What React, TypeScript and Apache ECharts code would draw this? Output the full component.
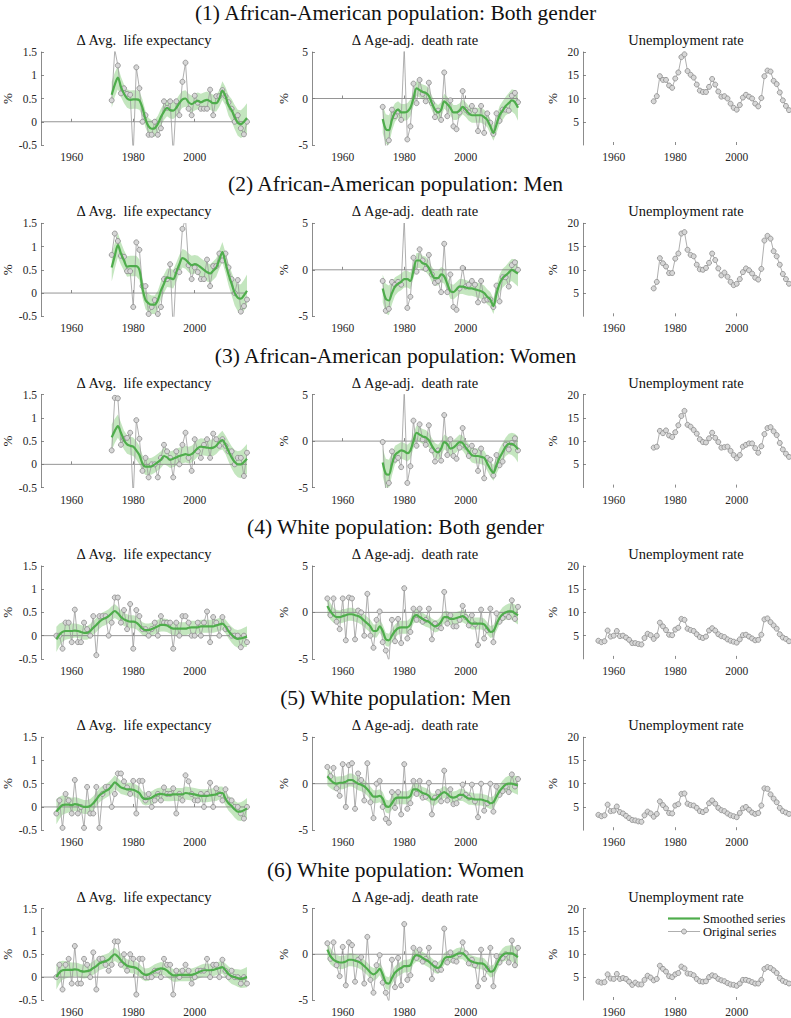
import React, { useEffect, useRef } from "react";
import * as echarts from "echarts";

// ---------------- categories ----------------
const YEARS_AA = [
  1973, 1974, 1975, 1976, 1977, 1978, 1979, 1980, 1981, 1982,
  1983, 1984, 1985, 1986, 1987, 1988, 1989, 1990, 1991, 1992,
  1993, 1994, 1995, 1996, 1997, 1998, 1999, 2000, 2001, 2002,
  2003, 2004, 2005, 2006, 2007, 2008, 2009, 2010, 2011, 2012,
  2013, 2014, 2015, 2016, 2017,
];
const YEARS_W = [
  1955, 1956, 1957, 1958, 1959, 1960, 1961, 1962, 1963, 1964,
  1965, 1966, 1967, 1968, 1969, 1970, 1971, 1972, 1973, 1974,
  1975, 1976, 1977, 1978, 1979, 1980, 1981, 1982, 1983, 1984,
  1985, 1986, 1987, 1988, 1989, 1990, 1991, 1992, 1993, 1994,
  1995, 1996, 1997, 1998, 1999, 2000, 2001, 2002, 2003, 2004,
  2005, 2006, 2007, 2008, 2009, 2010, 2011, 2012, 2013, 2014,
  2015, 2016, 2017,
];

const ROW_TITLES = [
  "(1) African-American population: Both gender",
  "(2) African-American population: Men",
  "(3) African-American population: Women",
  "(4) White population: Both gender",
  "(5) White population: Men",
  "(6) White population: Women",
];
const COL_TITLES = ["\u0394 Avg.  life expectancy", "\u0394 Age-adj.  death rate", "Unemployment rate"];
const X_TICKS = [1960, 1980, 2000];
const Y_TICKS_UNEMP = [5, 10, 15, 20];
const LEGEND_LABELS = ["Smoothed series", "Original series"];

// ---------------- (1) African-American, both ----------------
const AA_BOTH_LE = [
  0.46, 1.55, 1.21, 0.61, 0.72, 0.6, 0.58, -0.7, 1.17, 0.72,
  0.0, 0.14, -0.28, -0.28, 0.0, -0.28, -0.14, 0.44, 0.3, 0.44,
  -0.7, 0.44, 0.14, 0.86, 1.27, 0.28, 0.14, 0.56, 0.41, 0.28,
  0.28, 0.28, 0.69, 0.14, 0.55, 0.55, 0.68, 0.55, 0.42, 0.28,
  0.0, 0.14, -0.14, -0.27, 0.0,
];
const AA_BOTH_LE_S = [
  0.58, 0.8, 0.95, 0.75, 0.6, 0.5, 0.47, 0.48, 0.48, 0.46,
  0.3, 0.05, -0.1, -0.15, -0.14, -0.05, 0.1, 0.22, 0.3, 0.25,
  0.24, 0.3, 0.4, 0.48, 0.5, 0.42, 0.38, 0.42, 0.45, 0.42,
  0.45, 0.47, 0.44, 0.4, 0.4, 0.5, 0.67, 0.55, 0.35, 0.25,
  0.1, -0.02, -0.05, 0.0, 0.08,
];
const AA_LE_HW = [
  0.28, 0.26, 0.25, 0.22, 0.2, 0.2, 0.2, 0.2, 0.2, 0.2,
  0.18, 0.18, 0.18, 0.18, 0.18, 0.18, 0.18, 0.18, 0.18, 0.18,
  0.18, 0.18, 0.18, 0.18, 0.18, 0.18, 0.18, 0.18, 0.18, 0.18,
  0.18, 0.18, 0.18, 0.18, 0.18, 0.18, 0.2, 0.2, 0.22, 0.24,
  0.26, 0.28, 0.3, 0.31, 0.32,
];
const AA_BOTH_DR = [
  -0.9, -5.5, -4.5, -1.2, -1.9, -1.4, -2.3, 5.5, -4.4, -3.0,
  1.6, -0.5, 2.0, 0.5, -0.3, 1.7, -0.5, -2.0, -1.3, -2.3,
  2.8, -1.9, -0.2, -3.0, -3.3, -1.5, 0.8, -1.2, -1.5, -0.8,
  -1.3, -3.5, -0.8, -3.7, -1.6, -2.6, -3.8, -1.6, -2.4, -1.2,
  -1.2, -1.3, 0.3, 0.6, -0.4,
];
const AA_BOTH_DR_S = [
  -2.2, -3.3, -3.4, -2.3, -1.5, -1.2, -1.5, -1.5, -1.4, -1.0,
  0.0, 1.1, 0.9, 0.7, 0.6, 0.3, -0.5, -1.2, -1.5, -1.2,
  -0.3, -0.6, -1.0, -1.5, -1.5, -1.3, -0.9, -1.2, -1.6, -1.8,
  -1.8, -1.8, -1.8, -2.0, -2.3, -3.0, -3.7, -2.8, -1.8, -1.3,
  -0.8, -0.5, -0.2, -0.4, -1.0,
];
const AA_DR_HW = [
  1.5, 1.6, 1.6, 1.2, 1.0, 0.9, 0.9, 0.9, 0.9, 0.9,
  0.8, 0.8, 0.8, 0.8, 0.8, 0.8, 0.8, 0.8, 0.8, 0.8,
  0.8, 0.8, 0.8, 0.8, 0.8, 0.8, 0.8, 0.8, 0.8, 0.8,
  0.8, 0.8, 0.8, 0.8, 0.8, 0.8, 0.85, 0.9, 1.0, 1.0,
  1.0, 1.1, 1.2, 1.3, 1.4,
];
const AA_BOTH_UN = [
  9.4, 10.5, 14.8, 14.0, 14.0, 12.8, 12.3, 14.3, 15.6, 18.9,
  19.5, 15.9, 15.1, 14.5, 13.0, 11.7, 11.4, 11.4, 12.5, 14.2,
  13.0, 11.5, 10.4, 10.5, 10.0, 8.9, 8.0, 7.6, 8.6, 10.2,
  10.8, 10.4, 10.0, 8.9, 8.3, 10.1, 14.8, 16.0, 15.8, 13.8,
  13.1, 11.3, 9.6, 8.4, 7.5,
];

// ---------------- (2) African-American, men ----------------
const AA_MEN_LE = [
  0.82, 1.28, 1.12, 0.8, 0.78, 0.47, 0.47, -0.3, 1.09, 0.93,
  0.15, 0.15, -0.45, -0.3, -0.15, -0.45, -0.3, 0.3, 0.3, 0.62,
  -0.8, 0.47, 0.45, 1.38, 1.6, 0.6, 0.3, 0.55, 0.45, 0.3,
  0.3, 0.72, 0.15, 0.58, 0.58, 0.85, 0.7, 0.85, 0.55, 0.3,
  0.0, 0.28, -0.4, -0.28, -0.14,
];
const AA_MEN_LE_S = [
  0.55, 0.8, 1.03, 0.85, 0.7, 0.57, 0.58, 0.58, 0.58, 0.5,
  0.1, -0.15, -0.22, -0.25, -0.25, -0.15, 0.05, 0.2, 0.33, 0.32,
  0.3, 0.45, 0.62, 0.75, 0.72, 0.65, 0.6, 0.62, 0.6, 0.55,
  0.5, 0.45, 0.42, 0.48, 0.55, 0.72, 0.88, 0.65, 0.4, 0.2,
  0.0, -0.1, -0.12, -0.05, 0.05,
];
const AA_MEN_LE_HW = [
  0.3, 0.28, 0.26, 0.24, 0.22, 0.22, 0.22, 0.22, 0.22, 0.22,
  0.2, 0.2, 0.2, 0.2, 0.2, 0.2, 0.2, 0.2, 0.2, 0.2,
  0.2, 0.2, 0.2, 0.2, 0.2, 0.2, 0.2, 0.2, 0.2, 0.2,
  0.2, 0.2, 0.2, 0.2, 0.2, 0.2, 0.22, 0.22, 0.24, 0.25,
  0.27, 0.29, 0.31, 0.33, 0.35,
];
const AA_MEN_DR = [
  -1.2, -4.4, -4.2, -1.3, -1.6, -1.3, -1.6, 5.5, -4.1, -2.9,
  1.3, -0.2, 2.2, 1.0, 0.1, 1.6, -0.5, -1.4, -1.2, -2.4,
  2.8, -2.4, -0.5, -4.0, -4.3, -2.0, 0.2, -1.8, -1.6, -1.2,
  -1.6, -3.5, -1.2, -3.3, -3.2, -3.2, -4.0, -1.7, -3.4, -0.8,
  -0.8, -1.8, 0.5, 0.8, 0.0,
];
const AA_MEN_DR_S = [
  -2.0, -3.1, -3.3, -2.5, -1.8, -1.5, -1.3, -1.0, -1.0, -1.2,
  -0.1, 1.0, 1.0, 0.7, 0.6, 0.2, -0.5, -0.9, -0.9, -0.5,
  -0.7, -1.5, -2.3, -2.4, -2.1, -1.8, -1.8, -1.9, -2.0, -2.0,
  -2.1, -2.2, -2.3, -2.5, -2.9, -3.2, -3.9, -2.6, -1.5, -0.9,
  -0.6, -0.3, 0.0, -0.2, -0.4,
];
const AA_MEN_UN = [
  6.0, 7.4, 12.5, 11.4, 10.7, 9.3, 9.3, 12.4, 13.5, 17.8,
  18.1, 14.3, 13.2, 12.9, 11.1, 10.1, 10.0, 10.4, 11.5, 13.5,
  12.1, 10.3, 8.8, 9.4, 8.5, 7.4, 6.7, 7.0, 8.0, 9.5,
  10.3, 9.9, 9.2, 8.3, 7.9, 10.2, 16.3, 17.3, 16.7, 14.0,
  12.9, 11.1, 9.1, 8.0, 7.0,
];

// ---------------- (3) African-American, women ----------------
const AA_WOM_LE = [
  0.3, 1.43, 1.42, 0.42, 0.55, 0.57, 0.68, -0.7, 0.95, 0.55,
  -0.14, 0.14, -0.28, 0.0, 0.0, -0.28, 0.14, 0.42, 0.28, 0.14,
  -0.28, 0.28, 0.0, 0.42, 0.68, 0.14, -0.14, 0.54, 0.28, 0.14,
  0.42, 0.54, 0.14, 0.66, 0.54, 0.4, 0.54, 0.4, 0.28, 0.28,
  0.0, 0.14, 0.14, -0.25, 0.25,
];
const AA_WOM_LE_S = [
  0.58, 0.72, 0.82, 0.68, 0.52, 0.43, 0.4, 0.38, 0.3, 0.2,
  0.02, -0.05, -0.05, -0.04, 0.0, 0.05, 0.1, 0.18, 0.15, 0.1,
  0.12, 0.15, 0.18, 0.2, 0.22, 0.2, 0.22, 0.28, 0.35, 0.38,
  0.37, 0.36, 0.35, 0.36, 0.4, 0.48, 0.52, 0.42, 0.28, 0.15,
  0.05, 0.0, 0.0, 0.05, 0.12,
];
const AA_WOM_DR = [
  -0.1, -5.5, -4.5, -1.1, -2.0, -1.8, -2.8, 5.5, -4.5, -2.7,
  2.2, -0.5, 1.8, 0.2, -0.4, 1.7, -1.0, -2.2, -1.0, -2.1,
  2.8, -1.5, 0.2, -1.6, -1.9, -0.7, 1.4, -0.6, -1.6, -0.5,
  -1.1, -3.2, -0.8, -4.0, -1.8, -2.0, -3.7, -1.5, -2.6, -2.2,
  -0.4, -0.9, -0.2, 0.3, -1.0,
];
const AA_WOM_DR_S = [
  -2.3, -3.5, -3.6, -2.5, -1.5, -1.2, -1.0, -1.1, -1.3, -1.0,
  0.0, 0.9, 0.7, 0.5, 0.4, 0.1, -0.5, -1.0, -1.2, -0.8,
  -0.1, -0.3, -0.8, -0.7, -0.4, -0.1, -0.2, -0.7, -1.1, -1.5,
  -1.6, -1.6, -1.7, -1.8, -2.4, -3.0, -3.4, -2.6, -1.8, -1.2,
  -0.6, -0.3, -0.3, -0.5, -0.9,
];
const AA_WOM_UN = [
  8.6, 8.8, 12.2, 11.7, 12.3, 11.2, 10.9, 11.9, 13.4, 15.4,
  16.5, 13.5, 13.1, 12.4, 11.6, 10.4, 9.8, 9.7, 10.6, 11.8,
  10.7, 9.8, 8.6, 8.7, 8.8, 7.9, 7.0, 6.3, 7.0, 8.8,
  9.2, 9.5, 9.5, 8.5, 7.5, 8.9, 11.5, 12.8, 13.0, 12.1,
  11.3, 9.6, 8.2, 7.3, 6.6,
];

// ---------------- (4) White, both ----------------
const W_BOTH_LE = [
  0.0, 0.0, -0.28, 0.28, 0.28, -0.14, 0.56, -0.14, -0.14, 0.28,
  0.14, 0.0, 0.42, -0.42, 0.42, 0.42, 0.42, 0.0, 0.28, 0.82,
  0.82, 0.28, 0.55, 0.14, 0.68, -0.28, 0.55, 0.42, 0.14, 0.14,
  0.0, 0.14, 0.28, 0.0, 0.42, 0.28, 0.28, 0.28, -0.28, 0.28,
  0.0, 0.42, 0.42, 0.28, 0.0, 0.0, 0.28, 0.0, 0.28, 0.52,
  -0.14, 0.4, 0.28, 0.0, 0.4, 0.14, 0.14, 0.0, 0.0, 0.0,
  -0.25, 0.0, -0.14,
];
const W_BOTH_LE_S = [
  -0.08, 0.02, 0.08, 0.1, 0.1, 0.1, 0.11, 0.1, 0.08, 0.06,
  0.06, 0.1, 0.17, 0.23, 0.3, 0.35, 0.38, 0.42, 0.48, 0.53,
  0.48, 0.4, 0.35, 0.32, 0.3, 0.3, 0.28, 0.22, 0.15, 0.12,
  0.12, 0.14, 0.17, 0.2, 0.23, 0.23, 0.22, 0.18, 0.15, 0.15,
  0.15, 0.15, 0.15, 0.17, 0.18, 0.18, 0.18, 0.2, 0.2, 0.2,
  0.2, 0.2, 0.22, 0.24, 0.26, 0.2, 0.1, 0.02, -0.04, -0.07,
  -0.06, -0.04, -0.02,
];
const W_LE_HW = [
  0.27, 0.24, 0.21, 0.19, 0.17, 0.16, 0.15, 0.15, 0.15, 0.15,
  0.15, 0.15, 0.15, 0.15, 0.15, 0.15, 0.15, 0.15, 0.15, 0.15,
  0.14, 0.14, 0.14, 0.14, 0.14, 0.14, 0.14, 0.14, 0.14, 0.14,
  0.14, 0.14, 0.14, 0.14, 0.14, 0.14, 0.14, 0.14, 0.14, 0.14,
  0.14, 0.14, 0.14, 0.14, 0.14, 0.14, 0.14, 0.14, 0.14, 0.14,
  0.14, 0.14, 0.14, 0.14, 0.14, 0.15, 0.16, 0.17, 0.18, 0.19,
  0.2, 0.21, 0.22,
];
const W_BOTH_DR = [
  1.5, -0.3, 1.5, -1.0, -1.8, 1.5, -3.0, 1.6, 1.5, -2.9,
  0.2, 0.0, -2.5, 2.0, -2.5, -3.8, -0.8, 0.1, -3.2, -4.1,
  -5.2, -0.8, -3.1, -0.7, -3.3, 2.6, -2.8, -2.1, 0.4, -0.8,
  0.4, -1.0, -0.8, 0.4, -2.9, -1.2, -1.5, -1.7, 2.2, -1.2,
  -0.3, -1.5, -1.5, -0.8, 0.7, -0.5, -1.4, -0.3, -1.3, -3.5,
  0.3, -2.8, -1.9, 0.4, -3.2, -0.1, -1.0, -0.6, -0.2, -0.5,
  1.3, -0.7, 0.6,
];
const W_BOTH_DR_S = [
  0.7, 0.1, -0.3, -0.5, -0.5, -0.4, -0.3, -0.2, -0.2, -0.3,
  -0.4, -0.6, -0.9, -1.2, -1.5, -2.0, -2.0, -1.5, -2.0, -2.9,
  -3.0, -2.5, -2.0, -1.7, -1.6, -1.6, -1.6, -1.3, -0.5, -0.3,
  -0.5, -0.7, -0.9, -1.0, -1.3, -1.5, -1.4, -1.0, -0.5, -0.5,
  -0.7, -0.7, -0.6, -0.5, -0.4, -0.6, -1.0, -1.2, -1.2, -1.2,
  -1.2, -1.3, -1.7, -2.1, -2.0, -1.3, -0.6, -0.2, 0.0, 0.1,
  0.1, -0.1, -0.3,
];
const W_DR_HW = [
  1.0, 0.9, 0.8, 0.75, 0.7, 0.7, 0.7, 0.7, 0.7, 0.7,
  0.7, 0.7, 0.7, 0.7, 0.7, 0.7, 0.7, 0.7, 0.7, 0.7,
  0.7, 0.7, 0.7, 0.7, 0.7, 0.7, 0.7, 0.7, 0.7, 0.7,
  0.65, 0.65, 0.65, 0.65, 0.65, 0.65, 0.65, 0.65, 0.65, 0.65,
  0.65, 0.65, 0.65, 0.65, 0.65, 0.65, 0.65, 0.65, 0.65, 0.65,
  0.65, 0.65, 0.65, 0.65, 0.65, 0.7, 0.7, 0.75, 0.8, 0.85,
  0.9, 0.95, 1.0,
];
const W_BOTH_UN = [
  3.9, 3.6, 3.8, 6.1, 4.8, 5.0, 6.0, 4.9, 5.0, 4.6,
  4.1, 3.4, 3.4, 3.2, 3.1, 4.5, 5.4, 5.1, 4.3, 5.0,
  7.8, 7.0, 6.2, 5.2, 5.1, 6.3, 6.7, 8.6, 8.4, 6.5,
  6.2, 6.0, 5.3, 4.7, 4.5, 4.8, 6.1, 6.6, 6.1, 5.3,
  4.9, 4.7, 4.2, 3.9, 3.7, 3.5, 4.2, 5.1, 5.2, 4.8,
  4.4, 4.0, 4.1, 5.2, 8.5, 8.7, 7.9, 7.2, 6.5, 5.3,
  4.6, 4.3, 3.8,
];

// ---------------- (5) White, men ----------------
const W_MEN_LE = [
  -0.14, 0.14, -0.45, 0.28, 0.14, -0.14, 0.58, -0.14, 0.0, -0.45,
  0.43, -0.14, -0.14, 0.43, -0.45, 0.28, 0.43, 0.43, 0.0, 0.28,
  0.72, 0.72, 0.55, 0.42, 0.28, 0.56, -0.14, 0.56, 0.56, 0.14,
  0.28, 0.0, 0.14, 0.28, 0.14, 0.42, 0.28, 0.28, 0.4, -0.14,
  0.28, 0.14, 0.68, 0.55, 0.28, 0.14, 0.14, 0.28, 0.0, 0.28,
  0.52, 0.0, 0.4, 0.28, 0.14, 0.38, 0.14, 0.14, 0.0, 0.0,
  -0.14, -0.25, 0.0,
];
const W_MEN_LE_S = [
  -0.1, -0.02, 0.04, 0.05, 0.05, 0.04, 0.06, 0.05, 0.02, 0.0,
  0.0, 0.02, 0.08, 0.16, 0.25, 0.3, 0.34, 0.38, 0.45, 0.53,
  0.48, 0.42, 0.4, 0.38, 0.38, 0.37, 0.34, 0.3, 0.2, 0.17,
  0.18, 0.2, 0.24, 0.27, 0.28, 0.27, 0.26, 0.26, 0.27, 0.27,
  0.27, 0.27, 0.3, 0.29, 0.28, 0.27, 0.25, 0.24, 0.24, 0.24,
  0.25, 0.26, 0.27, 0.3, 0.3, 0.18, 0.08, 0.02, -0.05, -0.1,
  -0.1, -0.07, -0.03,
];
const W_MEN_DR = [
  1.8, 0.8, 1.7, -0.5, -1.3, 2.1, -2.5, 2.0, 2.2, -2.7,
  1.1, 0.4, -1.8, 2.2, -2.0, -3.7, 0.0, 0.3, -2.5, -3.8,
  -4.2, -0.9, -2.6, -0.9, -3.3, 2.1, -2.7, -2.1, 0.3, -1.1,
  0.3, -1.5, -1.4, 0.1, -3.3, -1.5, -0.9, -1.9, 1.4, -1.8,
  -0.6, -2.2, -2.1, -1.4, -0.1, -1.2, -1.5, -0.1, -1.9, -3.6,
  0.0, -2.9, -2.1, 0.0, -3.0, -0.3, -1.2, -0.8, -0.3, -0.9,
  1.0, -0.3, 0.5,
];
const W_MEN_DR_S = [
  0.8, 0.4, 0.1, 0.0, 0.1, 0.1, 0.2, 0.4, 0.4, 0.2,
  0.0, -0.1, -0.3, -0.6, -1.0, -1.4, -1.4, -1.3, -1.6, -2.4,
  -2.5, -2.1, -1.6, -1.5, -1.5, -1.5, -1.5, -1.3, -0.6, -0.6,
  -0.8, -1.0, -1.1, -1.3, -1.7, -1.7, -1.4, -1.1, -0.9, -1.1,
  -1.4, -1.5, -1.4, -1.2, -1.2, -1.4, -1.6, -1.6, -1.7, -1.7,
  -1.7, -1.8, -1.9, -2.1, -2.0, -1.4, -0.8, -0.4, -0.1, 0.0,
  0.0, -0.1, -0.2,
];
const W_MEN_UN = [
  3.3, 3.0, 3.2, 5.5, 4.1, 4.2, 5.1, 3.9, 3.6, 3.1,
  2.6, 2.2, 2.1, 1.9, 1.8, 3.2, 4.0, 3.6, 2.9, 3.5,
  6.2, 5.4, 4.7, 3.7, 3.6, 5.3, 5.6, 7.8, 7.9, 5.7,
  5.4, 5.3, 4.8, 4.1, 3.9, 4.3, 5.8, 6.4, 5.7, 4.8,
  4.3, 4.1, 3.6, 3.2, 3.0, 2.8, 3.7, 4.7, 5.0, 4.4,
  3.8, 3.5, 3.7, 5.3, 9.0, 8.9, 7.7, 6.8, 6.0, 4.8,
  4.1, 3.8, 3.5,
];

// ---------------- (6) White, women ----------------
const W_WOM_LE = [
  0.0, 0.27, -0.27, 0.27, 0.4, -0.14, 0.68, -0.14, -0.14, 0.4,
  0.27, 0.0, 0.54, -0.27, 0.4, 0.4, 0.27, 0.14, 0.27, 0.78,
  0.78, 0.27, 0.5, 0.14, 0.5, 0.4, -0.38, 0.4, 0.4, 0.0,
  0.0, 0.0, 0.14, 0.14, 0.0, 0.4, 0.27, 0.27, -0.38, 0.14,
  0.0, 0.14, 0.27, 0.14, -0.14, 0.0, 0.14, 0.14, 0.14, 0.4,
  0.0, 0.27, 0.27, 0.0, 0.38, 0.14, 0.0, 0.14, 0.0, 0.0,
  -0.14, 0.0, -0.14,
];
const W_WOM_LE_S = [
  0.0, 0.1, 0.15, 0.16, 0.16, 0.16, 0.17, 0.16, 0.13, 0.12,
  0.13, 0.15, 0.2, 0.24, 0.3, 0.33, 0.35, 0.38, 0.45, 0.5,
  0.45, 0.37, 0.3, 0.25, 0.23, 0.22, 0.2, 0.15, 0.08, 0.05,
  0.06, 0.1, 0.14, 0.17, 0.19, 0.18, 0.14, 0.08, 0.04, 0.04,
  0.05, 0.05, 0.05, 0.05, 0.05, 0.07, 0.1, 0.13, 0.15, 0.15,
  0.15, 0.16, 0.18, 0.2, 0.22, 0.15, 0.07, 0.02, 0.0, -0.02,
  -0.04, -0.02, 0.0,
];
const W_WOM_DR = [
  1.2, -0.5, 1.3, -1.2, -2.4, 0.8, -3.4, 1.3, 1.0, -3.0,
  -0.6, -0.3, -3.2, 1.9, -2.8, -4.2, -1.2, -0.1, -3.1, -4.2,
  -5.2, -0.6, -3.6, -0.4, -3.4, 3.3, -2.8, -2.3, 0.7, -0.4,
  0.5, -0.8, -0.5, 0.7, -2.7, -1.0, -1.7, -1.7, 2.8, -0.9,
  0.2, -0.7, -0.8, 0.0, 1.3, 0.1, -1.0, -0.6, -1.2, -3.5,
  0.5, -2.7, -1.6, 0.7, -3.5, -0.2, -0.9, -0.4, 0.0, -0.9,
  1.5, -1.2, 0.7,
];
const W_WOM_DR_S = [
  0.5, -0.2, -0.6, -0.8, -0.9, -0.9, -0.8, -0.6, -0.6, -0.7,
  -0.8, -1.0, -1.3, -1.6, -2.0, -2.2, -2.0, -1.6, -2.2, -3.1,
  -3.2, -2.6, -2.0, -1.7, -1.5, -1.3, -1.3, -1.2, -0.4, -0.1,
  -0.2, -0.4, -0.6, -0.8, -1.1, -1.4, -1.5, -1.2, -0.5, -0.3,
  -0.3, -0.2, 0.0, 0.1, 0.1, -0.2, -0.6, -0.8, -0.9, -1.0,
  -1.0, -1.1, -1.5, -1.9, -1.8, -1.2, -0.5, -0.1, 0.1, 0.1,
  0.1, -0.1, -0.3,
];
const W_WOM_UN = [
  4.0, 3.8, 3.9, 5.6, 4.7, 4.6, 5.7, 4.6, 4.8, 4.6,
  4.0, 3.3, 3.8, 3.4, 3.4, 4.4, 5.3, 4.9, 4.3, 4.6,
  7.5, 6.8, 6.2, 5.2, 5.0, 5.6, 5.9, 7.3, 6.9, 5.8,
  5.7, 5.4, 4.6, 4.1, 4.0, 4.1, 5.0, 5.4, 5.2, 4.6,
  4.3, 4.1, 3.7, 3.4, 3.3, 3.1, 3.6, 4.4, 4.4, 4.2,
  3.9, 3.6, 3.6, 4.4, 6.8, 7.2, 7.0, 6.5, 5.9, 4.8,
  4.2, 3.9, 3.6,
];

// ---------------- panel table ----------------
const ROWS = [
  { years: YEARS_AA, le: AA_BOTH_LE, leS: AA_BOTH_LE_S, leHW: AA_LE_HW, dr: AA_BOTH_DR, drS: AA_BOTH_DR_S, drHW: AA_DR_HW, un: AA_BOTH_UN },
  { years: YEARS_AA, le: AA_MEN_LE, leS: AA_MEN_LE_S, leHW: AA_MEN_LE_HW, dr: AA_MEN_DR, drS: AA_MEN_DR_S, drHW: AA_DR_HW, un: AA_MEN_UN },
  { years: YEARS_AA, le: AA_WOM_LE, leS: AA_WOM_LE_S, leHW: AA_LE_HW, dr: AA_WOM_DR, drS: AA_WOM_DR_S, drHW: AA_DR_HW, un: AA_WOM_UN },
  { years: YEARS_W, le: W_BOTH_LE, leS: W_BOTH_LE_S, leHW: W_LE_HW, dr: W_BOTH_DR, drS: W_BOTH_DR_S, drHW: W_DR_HW, un: W_BOTH_UN },
  { years: YEARS_W, le: W_MEN_LE, leS: W_MEN_LE_S, leHW: W_LE_HW, dr: W_MEN_DR, drS: W_MEN_DR_S, drHW: W_DR_HW, un: W_MEN_UN },
  { years: YEARS_W, le: W_WOM_LE, leS: W_WOM_LE_S, leHW: W_LE_HW, dr: W_WOM_DR, drS: W_WOM_DR_S, drHW: W_DR_HW, un: W_WOM_UN },
];

// ---------------- styling / layout ----------------
const FONT = "'Liberation Serif', 'Times New Roman', serif";
const GREEN = "#4fad4c";
const BAND = "#c4e6bf";
const GRAY_LINE = "#9a9a9a";
const MARK_FILL = "#d6d6d6";
const MARK_EDGE = "#8a8a8a";
const AXIS_COL = "#6e6e6e";
const TEXT_COL = "#262626";

const GRID_LEFT = [41, 312, 583];
const GRID_W = 206;
const GRID_H = 93;
const GRID_TOP0 = 52;
const ROW_PITCH = 171.3;
const TITLE_Y0 = 13;
const SUBTITLE_Y0 = 40;

const yearLabel = (v: number) => String(Math.round(v));

function buildOption() {
  const grid: any[] = [];
  const xAxis: any[] = [];
  const yAxis: any[] = [];
  const series: any[] = [];
  const graphic: any[] = [];

  ROWS.forEach((row, r) => {
    const top = GRID_TOP0 + ROW_PITCH * r;
    graphic.push({
      type: "text",
      x: 395.5,
      y: TITLE_Y0 + ROW_PITCH * r,
      style: { text: ROW_TITLES[r], font: `21.5px ${FONT}`, fill: "#111", textAlign: "center", textVerticalAlign: "middle", align: "center", verticalAlign: "middle" },
    });
    for (let c = 0; c < 3; c++) {
      const i = r * 3 + c;
      grid.push({ left: GRID_LEFT[c], top, width: GRID_W, height: GRID_H, containLabel: false });
      graphic.push({
        type: "text",
        x: GRID_LEFT[c] + GRID_W / 2,
        y: SUBTITLE_Y0 + ROW_PITCH * r,
        style: { text: COL_TITLES[c], font: `14.5px ${FONT}`, fill: "#111", textAlign: "center", textVerticalAlign: "middle", align: "center", verticalAlign: "middle" },
      });
      xAxis.push({
        gridIndex: i,
        type: "value",
        min: 1950,
        max: 2017,
        axisLine: { show: false },
        axisTick: { show: true, inside: true, length: 3, customValues: X_TICKS, lineStyle: { color: AXIS_COL, width: 0.8 } },
        axisLabel: { customValues: X_TICKS, formatter: yearLabel, fontFamily: FONT, fontSize: 11.5, color: TEXT_COL, margin: 6 },
        splitLine: { show: false },
      });
      const yBase: any = {
        gridIndex: i,
        type: "value",
        name: "%",
        nameLocation: "middle",
        nameRotate: 90,
        nameTextStyle: { fontFamily: FONT, fontSize: 13, color: TEXT_COL },
        axisLine: { show: true, lineStyle: { color: AXIS_COL, width: 0.8 } },
        axisTick: { show: true, inside: true, length: 3, lineStyle: { color: AXIS_COL, width: 0.8 } },
        axisLabel: { fontFamily: FONT, fontSize: 11.5, color: TEXT_COL, margin: 4 },
        splitLine: { show: false },
      };
      if (c === 0) {
        yAxis.push({ ...yBase, min: -0.5, max: 1.5, interval: 0.5, nameGap: 27 });
      } else if (c === 1) {
        yAxis.push({ ...yBase, min: -5, max: 5, interval: 5, nameGap: 22 });
      } else {
        yAxis.push({
          ...yBase,
          min: 0,
          max: 20,
          nameGap: 24,
          axisTick: { ...yBase.axisTick, customValues: Y_TICKS_UNEMP },
          axisLabel: { ...yBase.axisLabel, customValues: Y_TICKS_UNEMP },
        });
      }

      const years = row.years;
      let orig: number[], smooth: number[] | null = null, hw: number[] | null = null;
      if (c === 0) { orig = row.le; smooth = row.leS; hw = row.leHW; }
      else if (c === 1) { orig = row.dr; smooth = row.drS; hw = row.drHW; }
      else { orig = row.un; }

      if (smooth && hw) {
        const s = smooth, h = hw;
        series.push({
          type: "custom",
          xAxisIndex: i,
          yAxisIndex: i,
          silent: true,
          clip: true,
          z: 1,
          data: years.map((y, k) => [y, s[k] - h[k], s[k] + h[k]]),
          encode: { x: 0, y: [1, 2] },
          renderItem: (params: any, api: any) => {
            if (params.dataIndex !== 0) return null;
            const up = years.map((y, k) => api.coord([y, s[k] + h[k]]));
            const lo = years.map((y, k) => api.coord([y, s[k] - h[k]])).reverse();
            return { type: "polygon", shape: { points: up.concat(lo) }, style: { fill: BAND, stroke: null } };
          },
        });
        series.push({
          type: "line",
          xAxisIndex: i,
          yAxisIndex: i,
          silent: true,
          symbol: "none",
          z: 2,
          data: [[1950, 0], [2017, 0]],
          lineStyle: { color: "#7a7a7a", width: 0.8 },
        });
      }
      series.push({
        type: "line",
        name: "Original series",
        xAxisIndex: i,
        yAxisIndex: i,
        silent: true,
        clip: true,
        z: 3,
        data: years.map((y, k) => [y, orig[k]]),
        symbol: "circle",
        symbolSize: 5,
        showAllSymbol: true,
        lineStyle: { color: GRAY_LINE, width: 0.8 },
        itemStyle: { color: MARK_FILL, borderColor: MARK_EDGE, borderWidth: 0.8 },
      });
      if (smooth) {
        const s = smooth;
        series.push({
          type: "line",
          name: "Smoothed series",
          xAxisIndex: i,
          yAxisIndex: i,
          silent: true,
          clip: true,
          z: 4,
          smooth: 0.3,
          symbol: "none",
          data: years.map((y, k) => [y, s[k]]),
          lineStyle: { color: GREEN, width: 2.2 },
        });
      }
    }
  });

  // legend (row 6, unemployment panel)
  const ly = GRID_TOP0 + ROW_PITCH * 5 + 10;
  const lx = 668;
  graphic.push(
    { type: "line", shape: { x1: lx, y1: ly, x2: lx + 32, y2: ly }, style: { stroke: GREEN, lineWidth: 2.2 } },
    { type: "text", x: lx + 35, y: ly, style: { text: LEGEND_LABELS[0], font: `12.5px ${FONT}`, fill: "#111", textVerticalAlign: "middle", verticalAlign: "middle" } },
    { type: "line", shape: { x1: lx, y1: ly + 13, x2: lx + 32, y2: ly + 13 }, style: { stroke: GRAY_LINE, lineWidth: 0.8 } },
    { type: "circle", shape: { cx: lx + 16, cy: ly + 13, r: 2.5 }, style: { fill: MARK_FILL, stroke: MARK_EDGE, lineWidth: 0.8 } },
    { type: "text", x: lx + 35, y: ly + 13, style: { text: LEGEND_LABELS[1], font: `12.5px ${FONT}`, fill: "#111", textVerticalAlign: "middle", verticalAlign: "middle" } }
  );

  return {
    animation: false,
    backgroundColor: "#ffffff",
    grid,
    xAxis,
    yAxis,
    series,
    graphic,
  };
}

export default function App() {
  const ref = useRef<HTMLDivElement>(null);
  useEffect(() => {
    if (!ref.current) return;
    const chart = echarts.init(ref.current, undefined, { renderer: "svg" });
    chart.setOption(buildOption() as any);
    return () => chart.dispose();
  }, []);
  return (
    <div
      ref={ref}
      style={{ position: "absolute", left: 0, top: 0, width: 791, height: 1018, background: "#fff" }}
    />
  );
}
